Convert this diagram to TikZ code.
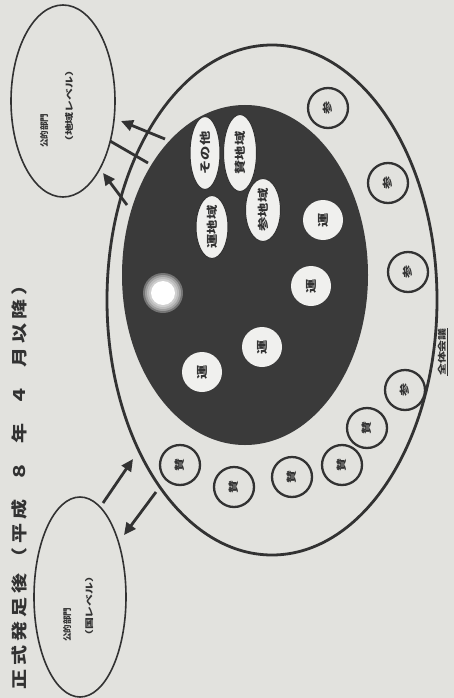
\documentclass[tikz,border=0pt]{standalone}
\usepackage{fontspec}
\usepackage{graphicx}
\usetikzlibrary{shapes.geometric,arrows.meta}
\newfontfamily\cjk{Noto Sans CJK JP}
\definecolor{paper}{RGB}{226,226,222}
\definecolor{inkc}{RGB}{50,50,50}
\definecolor{darkc}{RGB}{58,58,58}
\definecolor{lightc}{RGB}{240,240,238}
\newcommand{\sx}[2][1.3]{\scalebox{#1}[1]{#2}}
\newcommand{\tc}[1]{\scalebox{1.25}[1]{#1}\hspace{4pt}}
\begin{document}
\begin{tikzpicture}[x=1pt,y=-1pt,
  line/.style={draw=inkc, line width=2.8pt},
  arr/.style={line, -{Triangle[length=12pt,width=11pt]}},
  ringc/.style={circle, draw=inkc, line width=2.3pt, fill=paper, minimum size=40pt, inner sep=0pt, rotate=90, font=\cjk\bfseries\fontsize{10}{10}\selectfont, text=inkc},
  runc/.style={circle, fill=lightc, minimum size=40pt, inner sep=0pt, rotate=90, font=\cjk\bfseries\fontsize{11}{11}\selectfont, text=inkc},
  areae/.style={ellipse, draw=inkc, line width=1pt, fill=lightc, inner sep=0pt, rotate=90, font=\cjk\bfseries\fontsize{11}{11}\selectfont, text=inkc},
  pube/.style={ellipse, draw=inkc, line width=1.6pt, fill=paper, inner sep=0pt},
  lbl/.style={rotate=90, text=inkc, align=left, inner sep=0pt}
]
\useasboundingbox (0,0) rectangle (454,698);
\fill[paper] (0,0) rectangle (454,698);

% outer ellipse (whole council)
\node[ellipse, draw=inkc, line width=2.8pt, fill=paper, minimum width=330pt, minimum height=510pt, inner sep=0pt] (outer) at (272,300) {};
% dark ellipse
\node[ellipse, fill=darkc, minimum width=246pt, minimum height=340pt, inner sep=0pt] (core) at (245,275) {};
% blurred light spot
\foreach \r in {20,18,16,14} \fill[white, opacity=0.3] (163,293) circle (\r);
\fill[white] (163,293) circle (12);

% area ellipses
\node[areae, minimum width=73pt, minimum height=30pt] (e1) at (205,153) {\sx{その他}};
\node[areae, minimum width=77pt, minimum height=33pt] (e2) at (240,153) {\sx{賛地域}};
\node[areae, minimum width=63pt, minimum height=32pt] (e3) at (212,227) {\sx{運地域}};
\node[areae, minimum width=63pt, minimum height=35pt] (e4) at (263,210) {\sx{参地域}};

% operation circles
\node[runc] (u1) at (323,220) {\sx{運}};
\node[runc] (u2) at (311,286) {\sx{運}};
\node[runc] (u3) at (262,347) {\sx{運}};
\node[runc] (u4) at (202,372) {\sx{運}};

% ring circles
\node[ringc] (p1) at (328,108) {\sx{参}};
\node[ringc] (p2) at (388,183) {\sx{参}};
\node[ringc] (p3) at (408,272) {\sx{参}};
\node[ringc] (p4) at (405,390) {\sx{参}};
\node[ringc] (s1) at (367,428) {\sx{賛}};
\node[ringc] (s2) at (342,465) {\sx{賛}};
\node[ringc] (s3) at (292,477) {\sx{賛}};
\node[ringc] (s4) at (234,487) {\sx{賛}};
\node[ringc] (s5) at (180,465) {\sx{賛}};

% public sector ellipses
\node[pube, minimum width=104pt, minimum height=192pt] (loc) at (63,101) {};
\node[pube, minimum width=92pt, minimum height=200pt] (nat) at (80,597) {};
\node[lbl, anchor=north west, font=\cjk\bfseries\fontsize{8.5}{25}\selectfont] (loct) at (40,148) {公的部門\\\sx[1.4]{（地域レベル）}};
\node[lbl, anchor=north west, font=\cjk\bfseries\fontsize{8.5}{22}\selectfont] (natt) at (63,642) {公的部門\\\sx[1.4]{（国レベル）}};

% arrows
\coordinate (a1s) at (165,139); \coordinate (a1e) at (121,121);
\coordinate (a2s) at (148,163); \coordinate (a2e) at (110,141);
\coordinate (a3s) at (127,205); \coordinate (a3e) at (103,173);
\coordinate (b1s) at (103,503); \coordinate (b1e) at (133,459);
\coordinate (b2s) at (156,492); \coordinate (b2e) at (124,535);
\draw[arr] (a1s) -- (a1e);
\draw[line] (a2s) -- (a2e);
\draw[arr] (a3s) -- (a3e);
\draw[arr] (b1s) -- (b1e);
\draw[arr] (b2s) -- (b2e);

% title and caption
\node[rotate=90, anchor=north west, inner sep=0pt, font=\cjk\bfseries\fontsize{16}{16}\selectfont, text=inkc] (title) at (11,690)
  {\tc{正}\tc{式}\tc{発}\tc{足}\tc{後}\hspace{2pt}\tc{（}\tc{平}\tc{成}\hspace{14pt}\tc{８}\hspace{14pt}\tc{年}\hspace{14pt}\tc{４}\hspace{14pt}\tc{月}\tc{以}\tc{降}\tc{）}};
\node[rotate=90, font=\cjk\bfseries\fontsize{8.5}{8.5}\selectfont, text=inkc, inner sep=1pt] (zen) at (443,352) {\underline{\sx[1.4]{全体会議}}};
\end{tikzpicture}
\end{document}
